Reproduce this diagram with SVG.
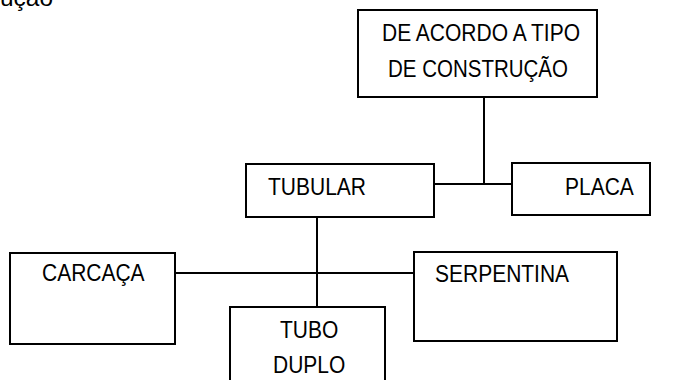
<svg xmlns="http://www.w3.org/2000/svg" width="674" height="380" viewBox="0 0 674 380">
<style>
rect{fill:#fff;stroke:#000;stroke-width:2}
line{stroke:#000;stroke-width:2}
text{font-family:"Liberation Sans",Arial,sans-serif;font-size:21px;fill:#000}
</style>
<rect x="0" y="0" width="674" height="380" style="stroke:none"/>
<text transform="translate(0,6) scale(1,1.12)" textLength="53" lengthAdjust="spacingAndGlyphs">ução</text>
<g id="connectors">
<line x1="484" y1="97" x2="484" y2="184"/>
<line x1="434" y1="184" x2="512" y2="184"/>
<line x1="317" y1="217" x2="317" y2="307"/>
<line x1="175" y1="273" x2="414" y2="273"/>
</g>
<g id="construcao">
<rect x="358" y="10" width="239" height="87"/>
<text transform="translate(382,41) scale(1,1.12)" textLength="198" lengthAdjust="spacingAndGlyphs">DE ACORDO A TIPO</text>
<text transform="translate(388,77) scale(1,1.12)" textLength="180" lengthAdjust="spacingAndGlyphs">DE CONSTRUÇÃO</text>
</g>
<g id="tubular">
<rect x="246" y="164" width="188" height="53"/>
<text transform="translate(268,195) scale(1,1.12)">TUBULAR</text>
</g>
<g id="placa">
<rect x="512" y="163" width="138" height="52"/>
<text transform="translate(565,195) scale(1,1.12)">PLACA</text>
</g>
<g id="carcaca">
<rect x="10" y="253" width="165" height="91"/>
<text transform="translate(42,281) scale(1,1.12)">CARCAÇA</text>
</g>
<g id="serpentina">
<rect x="414" y="252" width="203" height="89"/>
<text transform="translate(435,282) scale(1,1.12)">SERPENTINA</text>
</g>
<g id="tubo-duplo">
<rect x="230" y="307" width="155" height="80"/>
<text transform="translate(280,338) scale(1,1.12)">TUBO</text>
<text transform="translate(273,373) scale(1,1.12)">DUPLO</text>
</g>
</svg>
